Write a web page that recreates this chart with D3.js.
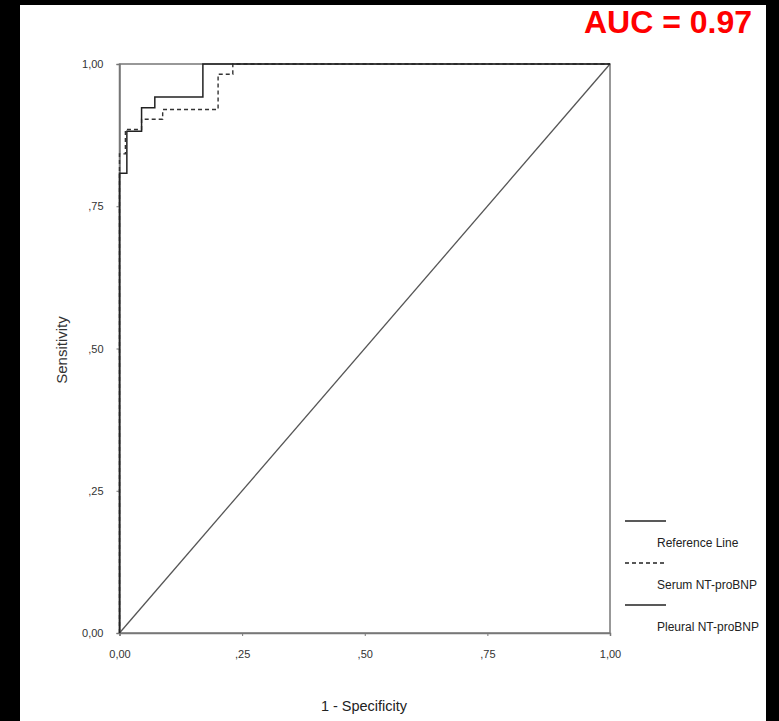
<!DOCTYPE html>
<html>
<head>
<meta charset="utf-8">
<script src="https://cdn.jsdelivr.net/npm/d3@7"></script>
<style>
  body { margin: 0; background: #000; }
  svg { display: block; }
  text { font-family: "Liberation Sans", Arial, sans-serif; }
</style>
</head>
<body>
<div id="chart"></div>
<script>
// ROC vertices
const pleuralFpr = [0, 0, 0.015, 0.015, 0.045, 0.045, 0.072, 0.072, 0.170, 0.170, 1];
const pleuralTpr = [0, 0.808, 0.808, 0.882, 0.882, 0.923, 0.923, 0.942, 0.942, 1, 1];
const serumFpr = [0, 0, 0.012, 0.012, 0.045, 0.045, 0.088, 0.088, 0.201, 0.201, 0.231, 0.231, 1];
const serumTpr = [0, 0.842, 0.842, 0.885, 0.885, 0.903, 0.903, 0.920, 0.920, 0.982, 0.982, 1, 1];
const refLine = [0, 1];
const tickValues = [0, 0.25, 0.5, 0.75, 1];
const tickLabels = ["0,00", ",25", ",50", ",75", "1,00"];
const legendItems = ["Reference Line", "Serum NT-proBNP", "Pleural NT-proBNP"];
const aucText = "AUC = 0.97";

const width = 779, height = 721;
const svg = d3.select("#chart").append("svg")
    .attr("width", width).attr("height", height);

// white panel inside the black frame
svg.append("rect").attr("x", 20).attr("y", 5)
    .attr("width", 746).attr("height", 716).attr("fill", "#fff");

const x = d3.scaleLinear().domain([0, 1]).range([119.5, 610]);
const y = d3.scaleLinear().domain([0, 1]).range([633, 64]);

// frame
svg.append("rect")
    .attr("x", x(0)).attr("y", y(1))
    .attr("width", x(1) - x(0)).attr("height", y(0) - y(1))
    .attr("fill", "none").attr("stroke", "#777").attr("stroke-width", 1.5);

const fmt = d => tickLabels[tickValues.indexOf(d)];

const xAxis = svg.append("g").attr("transform", `translate(0,${y(0)})`)
    .call(d3.axisBottom(x).tickValues(tickValues).tickFormat(fmt).tickSize(3).tickPadding(14));
const yAxis = svg.append("g").attr("transform", `translate(${x(0)},0)`)
    .call(d3.axisLeft(y).tickValues(tickValues).tickFormat(fmt).tickSize(3).tickPadding(13));
[xAxis, yAxis].forEach(g => {
    g.select(".domain").attr("stroke", "#777").attr("stroke-width", 1.5);
    g.selectAll(".tick line").attr("stroke", "#777");
    g.selectAll("text").attr("fill", "#333").style("font-size", "11px")
        .style("font-family", "'Liberation Sans', Arial, sans-serif");
});

// diagonal reference
const line = d3.line().x(d => x(d[0])).y(d => y(d[1]));
svg.append("path").attr("d", line(refLine.map(v => [v, v])))
    .attr("fill", "none").attr("stroke", "#555").attr("stroke-width", 1.3);

svg.append("path").attr("d", line(serumFpr.map((v, i) => [v, serumTpr[i]])))
    .attr("fill", "none").attr("stroke", "#333").attr("stroke-width", 1.4)
    .attr("stroke-dasharray", "4,3");
svg.append("path").attr("d", line(pleuralFpr.map((v, i) => [v, pleuralTpr[i]])))
    .attr("fill", "none").attr("stroke", "#222").attr("stroke-width", 1.5);

// axis titles
svg.append("text").attr("x", 364).attr("y", 711).attr("text-anchor", "middle")
    .style("font-size", "14.5px").attr("fill", "#222").text("1 - Specificity");
svg.append("text").attr("transform", "translate(67,350) rotate(-90)")
    .attr("text-anchor", "middle").style("font-size", "15px").attr("fill", "#333")
    .text("Sensitivity");

// legend
const legend = svg.append("g");
legendItems.forEach((name, i) => {
    const ly = 521 + i * 42;
    legend.append("line").attr("x1", 625).attr("x2", 666).attr("y1", ly).attr("y2", ly)
        .attr("stroke", "#222").attr("stroke-width", 1.5)
        .attr("stroke-dasharray", i === 1 ? "4,3" : null);
    legend.append("text").attr("x", 657).attr("y", ly + 26)
        .style("font-size", "12px").attr("fill", "#222").text(name);
});

// AUC annotation
svg.append("text").attr("x", 752).attr("y", 33).attr("text-anchor", "end")
    .style("font-size", "32px").style("font-weight", "bold").attr("fill", "#f00")
    .text(aucText);
</script>
</body>
</html>
